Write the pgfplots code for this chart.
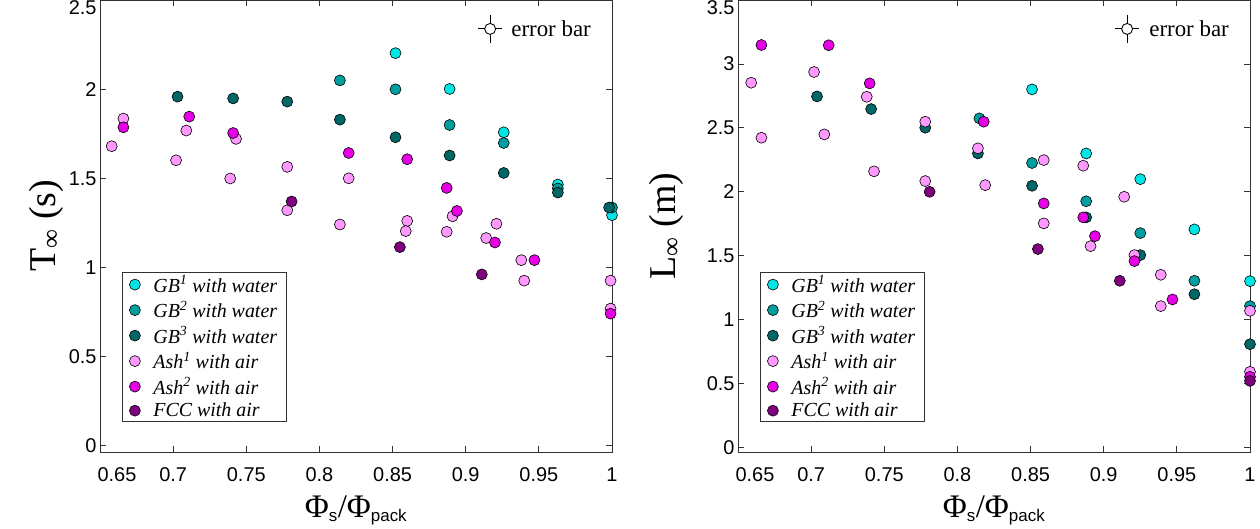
\documentclass[border=0pt]{standalone}
\usepackage{fontspec}
\setmainfont{Liberation Serif}
\setsansfont{Liberation Sans}
\usepackage{pgfplots}
\pgfplotsset{compat=1.18}

\definecolor{gbone}{RGB}{0,230,230}
\definecolor{gbtwo}{RGB}{0,158,158}
\definecolor{gbthree}{RGB}{0,102,102}
\definecolor{ashone}{RGB}{255,153,255}
\definecolor{ashtwo}{RGB}{230,0,230}
\definecolor{fcc}{RGB}{128,0,128}
\definecolor{axgray}{RGB}{50,50,50}

\newcommand{\sub}[1]{\textsubscript{\fontsize{17}{19}\sffamily #1}}

\pgfplotsset{
  pt/.style={only marks, mark=*, mark size=5.5bp, draw=black, line width=0.6bp, fill=#1},
  panel/.style={
    scale only axis, width=512bp, height=452bp,
    anchor=south west,
    xmin=0.65, xmax=1.0,
    xtick={0.7,0.75,0.8,0.85,0.9,0.95,1},
    extra x ticks={0.65},
    extra x tick style={xticklabel style={xshift=17bp}},
    tick align=inside,
    major tick length=6bp,
    axis line style={axgray, line width=0.8bp},
    tick style={axgray, line width=0.8bp},
    ticklabel style={font=\fontsize{20}{24}\sffamily},
    /pgf/number format/assume math mode=true,
    xticklabel style={yshift=-12bp},
    label style={font=\fontsize{38}{42}\selectfont},
    xlabel={\fontsize{33}{36}\selectfont Φ\sub{s}/Φ\sub{pack}},
    xlabel style={at={(axis description cs:0.5,-0.13)}, anchor=center},
    legend image code/.code={\draw[#1] plot coordinates {(0bp,0bp)};},
    legend style={at={(axis description cs:0.043,0.398)}, anchor=north west,
      draw=axgray, line width=0.8bp, font=\fontsize{20}{24}\selectfont\itshape,
      row sep=3.3bp, column sep=11bp, inner xsep=7bp, inner ysep=1bp},
    legend cell align=left,
  }
}

\begin{document}
\begin{tikzpicture}
\useasboundingbox (-100bp,-77bp) rectangle (1160bp,452bp);

\begin{axis}[panel, at={(0,0)},
  ymin=-0.035, ymax=2.5,
  ytick={0,0.5,1,1.5,2},
  extra y ticks={2.5},
  extra y tick style={yticklabel style={yshift=-8bp}},
  ylabel={T\textsubscript{∞} (s)},
  ylabel style={at={(axis description cs:-0.105,0.5)}, anchor=center},
]
\addplot[pt=gbone] coordinates {
  (0.852,2.202) (0.889,2.001) (0.926,1.758) (0.963,1.465) (1.0,1.293)
};
\addplot[pt=gbtwo] coordinates {
  (0.814,2.049) (0.852,1.999) (0.889,1.799) (0.926,1.698) (0.963,1.443) (1.0,1.336)
};
\addplot[pt=gbthree] coordinates {
  (0.703,1.958) (0.741,1.948) (0.778,1.930) (0.814,1.829) (0.852,1.730)
  (0.889,1.628) (0.926,1.530) (0.963,1.420) (0.998,1.336)
};
\addplot[pt=ashone] coordinates {
  (0.658,1.680) (0.666,1.835) (0.702,1.601) (0.709,1.768) (0.739,1.499)
  (0.743,1.721) (0.778,1.564) (0.778,1.321) (0.814,1.241) (0.820,1.500)
  (0.860,1.261) (0.859,1.204) (0.887,1.200) (0.891,1.287) (0.914,1.165)
  (0.921,1.245) (0.938,1.041) (0.940,0.926) (0.999,0.926) (0.999,0.769)
};
\addplot[pt=ashtwo] coordinates {
  (0.666,1.786) (0.711,1.846) (0.741,1.754) (0.820,1.642) (0.860,1.607)
  (0.887,1.446) (0.894,1.317) (0.920,1.140) (0.947,1.041) (0.999,0.741)
};
\addplot[pt=fcc] coordinates {
  (0.781,1.370) (0.855,1.114) (0.911,0.961)
};
\legend{GB\textsuperscript{1} with water, GB\textsuperscript{2} with water,
  GB\textsuperscript{3} with water, Ash\textsuperscript{1} with air,
  Ash\textsuperscript{2} with air, FCC with air}

\draw[black, line width=0.9bp] ([yshift=-14bp]axis description cs:0.762,0.936) -- ([yshift=14bp]axis description cs:0.762,0.936);
\draw[black, line width=0.9bp] ([xshift=-12bp]axis description cs:0.762,0.936) -- ([xshift=12bp]axis description cs:0.762,0.936);
\draw[black, line width=0.9bp, fill=white] (axis description cs:0.762,0.936) circle[radius=5.5bp];
\node[anchor=west, inner sep=0pt, font=\fontsize{23}{26}\selectfont] at (axis description cs:0.803,0.936) {error bar};
\end{axis}

\begin{axis}[panel, at={(638bp,0)},
  ymin=-0.035, ymax=3.5,
  ytick={0,0.5,1,1.5,2,2.5,3},
  extra y ticks={3.5},
  extra y tick style={yticklabel style={yshift=-8bp}},
  ylabel={L\textsubscript{∞} (m)},
  ylabel style={at={(axis description cs:-0.139,0.5)}, anchor=center},
]
\addplot[pt=gbone] coordinates {
  (0.851,2.801) (0.888,2.300) (0.925,2.099) (0.962,1.706) (1.0,1.301)
};
\addplot[pt=gbtwo] coordinates {
  (0.815,2.574) (0.851,2.225) (0.888,1.926) (0.925,1.677) (0.962,1.304) (1.0,1.106)
};
\addplot[pt=gbthree] coordinates {
  (0.704,2.746) (0.741,2.647) (0.778,2.501) (0.814,2.300) (0.851,2.047)
  (0.888,1.800) (0.925,1.505) (0.962,1.199) (1.0,0.808)
};
\addplot[pt=ashone] coordinates {
  (0.659,2.853) (0.666,2.423) (0.702,2.937) (0.709,2.449) (0.738,2.743)
  (0.743,2.160) (0.778,2.548) (0.778,2.084) (0.814,2.340) (0.819,2.052)
  (0.859,2.248) (0.859,1.753) (0.886,2.204) (0.891,1.575) (0.914,1.961)
  (0.921,1.505) (0.939,1.351) (0.939,1.106) (1.0,1.069) (1.0,0.592)
};
\addplot[pt=ashtwo] coordinates {
  (0.666,3.148) (0.712,3.146) (0.740,2.848) (0.818,2.548) (0.859,1.909)
  (0.886,1.800) (0.894,1.653) (0.921,1.458) (0.947,1.158) (1.0,0.553)
};
\addplot[pt=fcc] coordinates {
  (0.781,2.000) (0.855,1.552) (0.911,1.304) (1.0,0.521)
};
\legend{GB\textsuperscript{1} with water, GB\textsuperscript{2} with water,
  GB\textsuperscript{3} with water, Ash\textsuperscript{1} with air,
  Ash\textsuperscript{2} with air, FCC with air}

\draw[black, line width=0.9bp] ([yshift=-14bp]axis description cs:0.760,0.936) -- ([yshift=14bp]axis description cs:0.760,0.936);
\draw[black, line width=0.9bp] ([xshift=-12bp]axis description cs:0.760,0.936) -- ([xshift=12bp]axis description cs:0.760,0.936);
\draw[black, line width=0.9bp, fill=white] (axis description cs:0.760,0.936) circle[radius=5.5bp];
\node[anchor=west, inner sep=0pt, font=\fontsize{23}{26}\selectfont] at (axis description cs:0.803,0.936) {error bar};
\end{axis}
\end{tikzpicture}
\end{document}
